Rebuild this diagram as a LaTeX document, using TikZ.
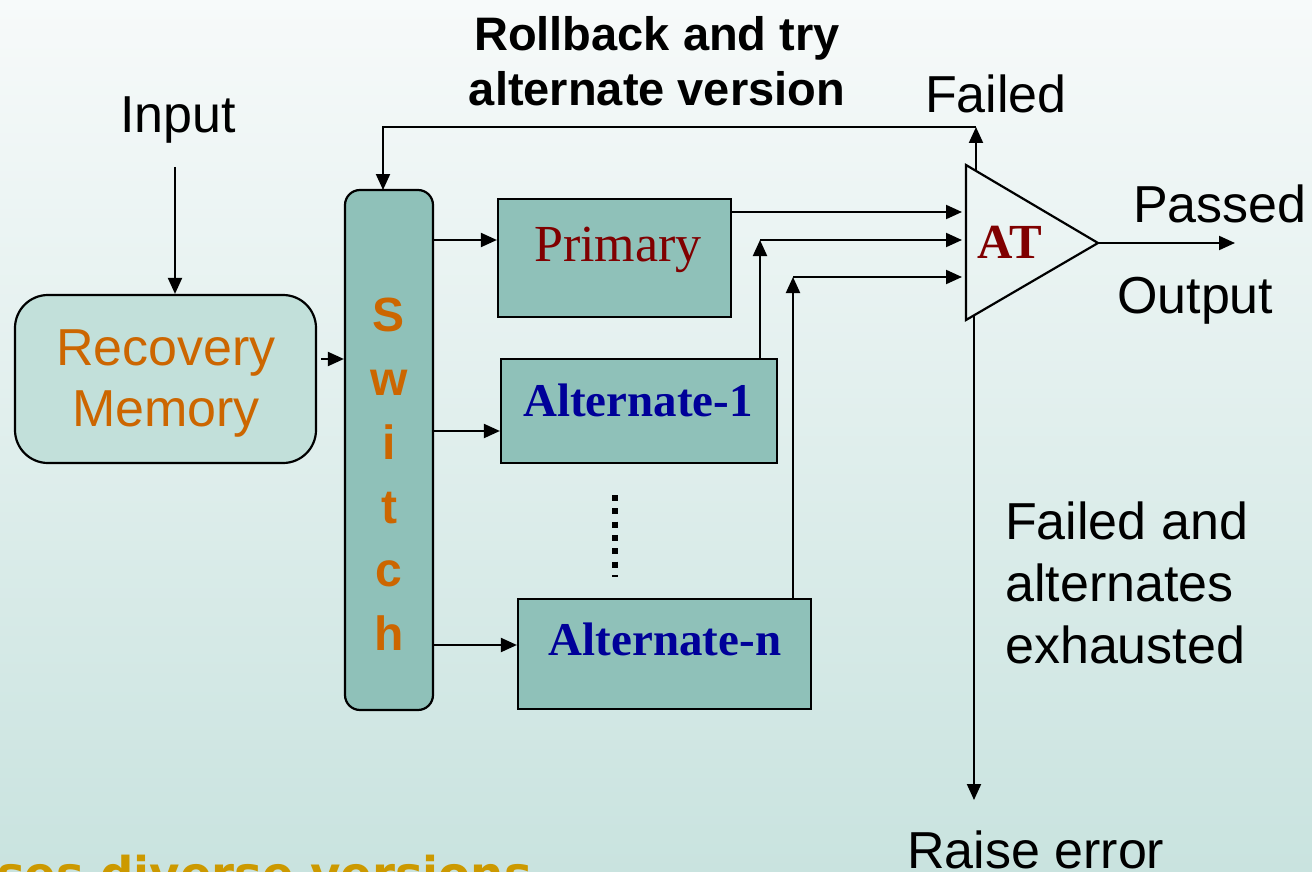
\documentclass[tikz,border=0pt]{standalone}
\usepackage{fontspec}
\setmainfont{Liberation Sans}
\newfontfamily\serifface{Liberation Serif}
\newfontfamily\captionface{DejaVu Sans}
\usetikzlibrary{arrows.meta,calc}

\definecolor{bgtop}{HTML}{F7FAFA}
\definecolor{bgbot}{HTML}{C9E3DF}
\definecolor{boxfill}{HTML}{8FC1B9}
\definecolor{memfill}{HTML}{C2E0DA}
\definecolor{amber}{HTML}{CC6600}
\definecolor{maroon}{HTML}{800000}
\definecolor{navy}{HTML}{000099}
\definecolor{gold}{HTML}{CC9900}

\tikzset{
  blk/.style={draw=black, line width=2.2pt, fill=boxfill, inner sep=0pt},
  arr/.style={line width=2pt, -{Triangle[length=16pt,width=14pt]}},
  lbl/.style={inner sep=0pt, font=\fontsize{52pt}{62pt}\selectfont},
  vername/.style={inner sep=0pt, anchor=base, text=navy,
    font=\serifface\bfseries\fontsize{47pt}{56pt}\selectfont},
}

\begin{document}
\begin{tikzpicture}[x=1pt,y=-1pt]
% page and background
\useasboundingbox (0,0) rectangle (1312,872);
\shade[top color=bgtop, bottom color=bgbot] (0,0) rectangle (1312,872);

% blocks
\node[draw=black, line width=2.2pt, fill=memfill, rounded corners=33pt,
      minimum width=301, minimum height=168, inner sep=0pt] (rec) at (165.5,379) {};
\node[anchor=north, align=center, inner sep=0pt, text=amber,
      font=\fontsize{52pt}{61pt}\selectfont] (reclbl) at (166,330) {Recovery\\Memory};

\node[blk, rounded corners=15pt, minimum width=88, minimum height=520] (sw) at (389,450) {};
\node[anchor=north, align=center, inner sep=0pt, text=amber,
      font=\bfseries\fontsize{48pt}{63.8pt}\selectfont] (swlbl) at (389,298) {S\\w\\i\\t\\c\\h};

\node[blk, minimum width=233, minimum height=118] (prim) at (614.5,258) {};
\node[inner sep=0pt, anchor=base, text=maroon,
      font=\serifface\fontsize{52pt}{62pt}\selectfont] (primlbl) at (618,261) {Primary};

\node[blk, minimum width=276, minimum height=104] (alt1) at (639,411) {};
\node[vername] (alt1lbl) at (638,416) {Alternate-1};

\node[blk, minimum width=293, minimum height=110] (altn) at (664.5,654) {};
\node[vername] (altnlbl) at (665,655) {Alternate-n};

% elided versions
\coordinate (dtop) at (615,495);
\coordinate (dbot) at (615,577);
\draw[line width=6pt, dash pattern=on 6pt off 7.3pt] (dtop) -- (dbot);

% acceptance test
\coordinate (atTop) at (966,165);
\coordinate (atBot) at (966,320);
\coordinate (atTip) at (1098,243);
\draw[line width=2.2pt, line join=miter] (atTop) -- (atTip) -- (atBot) -- cycle;
\node[inner sep=0pt, anchor=base, text=maroon,
      font=\serifface\bfseries\fontsize{49pt}{58pt}\selectfont] (atlbl) at (1010,258) {AT};
\coordinate (atIn) at (962,243);

% labels
\node[lbl, anchor=base] (input) at (178,133) {Input};
\node[anchor=north, align=center, inner sep=0pt,
      font=\bfseries\fontsize{47pt}{55pt}\selectfont] (rollback) at (657,16) {Rollback and try\\alternate version};
\node[lbl, anchor=base west] (failed) at (925,113) {Failed};
\node[lbl, anchor=base west] (passed) at (1133,222) {Passed};
\node[lbl, anchor=base west] (output) at (1117,313) {Output};
\node[lbl, anchor=north west, align=left] (exhausted) at (1005,502) {Failed and\\alternates\\exhausted};
\node[lbl, anchor=base west] (raise) at (907,868) {Raise error};
\node[inner sep=0pt, anchor=base west, text=gold,
      font=\captionface\bfseries\fontsize{46.6pt}{56pt}\selectfont] (uses) at (-3,890) {ses diverse versions};

% input into recovery memory and switch
\coordinate (inTop) at (175,167);
\draw[arr] (inTop) -- (inTop |- rec.north);
\draw[arr] ($(rec.east |- 0,359)+(4,0)$) -- (sw.west |- 0,359);

% switch to the versions
\draw[arr] (sw.east |- 0,240) -- (prim.west |- 0,240);
\draw[arr] (sw.east |- 0,431) -- (alt1.west |- 0,431);
\draw[arr] (sw.east |- 0,645) -- (altn.west |- 0,645);

% versions to the acceptance test
\draw[arr] (prim.east |- 0,212) -- (atIn |- 0,212);
\coordinate (j1) at (760,240);
\coordinate (j2) at (793,277);
\draw[arr] (alt1.north -| j1) -- (j1);
\draw[arr] (j1) -- (atIn |- j1);
\draw[arr] (altn.north -| j2) -- (j2);
\draw[arr] (j2) -- (atIn |- j2);

% outcomes
\coordinate (fbOut) at (976,171);
\coordinate (fb) at (976,127);
\coordinate (swIn) at (383,190);
\draw[arr] (fbOut) -- (fb);
\draw[arr] (fb) -| (swIn);
\coordinate (outEnd) at (1235,243);
\draw[arr] (atTip) -- (outEnd);
\coordinate (errTop) at (974,316);
\coordinate (errEnd) at (974,800);
\draw[arr] (errTop) -- (errEnd);
\end{tikzpicture}
\end{document}
